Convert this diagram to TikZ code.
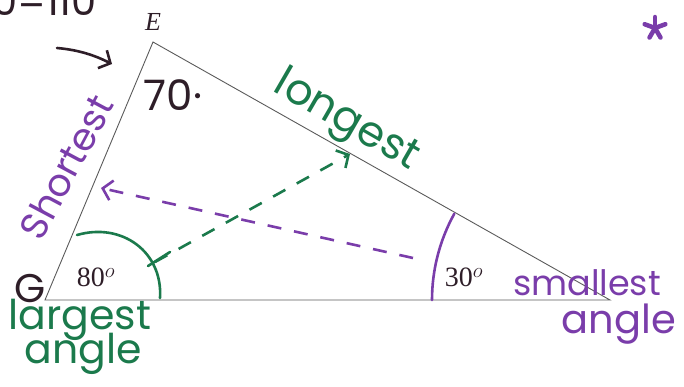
\documentclass[tikz,border=0pt]{standalone}
\usepackage{fontspec}
\setmainfont{Liberation Serif}
\newfontfamily\hand{Poppins}
\usetikzlibrary{arrows.meta,calc}
\definecolor{hpurple}{HTML}{7A3DAA}
\definecolor{hgreen}{HTML}{1B7A4C}
\definecolor{hdark}{HTML}{2E1E28}
\definecolor{edgegray}{HTML}{5A5A5A}
\begin{document}
\begin{tikzpicture}[x=1pt,y=-1pt,
  side/.style={draw=edgegray, line width=0.9pt},
  pen/.style={line width=2.6pt, line cap=round},
  dashpen/.style={line width=2.6pt, dash pattern=on 14pt off 13pt},
  hw/.style={font=\hand\fontsize{36}{36}\selectfont, inner sep=0pt},
  deg/.style={font=\fontsize{28}{28}\selectfont, inner sep=0pt, text=hdark},
  barb/.style={-{Straight Barb[length=9pt,width=20pt]}},
]
\useasboundingbox (0,0) rectangle (684,386);
% triangle
\coordinate (G) at (45,300);
\coordinate (E) at (153,42);
\coordinate (F) at (610,300);
\draw[side] (G) -- (E) -- (F) -- cycle;
% vertex labels
\node[font=\fontsize{26}{26}\selectfont\itshape, text=hdark, inner sep=0pt] (lE) at (153,22) {E};
\node[hw, text=hdark, font=\hand\fontsize{40}{40}\selectfont] (lG) at (30,289) {G};
\node[hw, text=hdark, font=\hand\fontsize{42}{42}\selectfont] (l70) at (173,95) {70·};
\node[deg] (l80) at (96,277) {80$^o$};
\node[deg] (l30) at (464,277) {30$^o$};
% top note
\node[hw, text=hdark, font=\hand\fontsize{40}{40}\selectfont, anchor=base east] (note) at (97,15) {0=110};
\coordinate (hA) at (57,48);
\coordinate (hB) at (112,64);
\draw[hdark, pen, barb] (hA) .. controls (80,50) and (96,56) .. (hB);
% side labels
\node[hw, text=hgreen, rotate=-30, font=\hand\fontsize{43}{43}\selectfont] (long) at (346,122) {longest};
\node[hw, text=hpurple, rotate=62, font=\hand\fontsize{38}{38}\selectfont] (short) at (66,167) {Shortest};
\node[hw, text=hgreen, font=\hand\fontsize{41}{41}\selectfont] (lg1) at (80,320) {largest};
\node[hw, text=hgreen, font=\hand\fontsize{41}{41}\selectfont] (lg2) at (83,354) {angle};
\node[hw, text=hpurple, font=\hand\fontsize{35}{35}\selectfont] (sm1) at (587,283) {smallest};
\node[hw, text=hpurple, font=\hand\fontsize{40}{40}\selectfont] (sm2) at (619,324) {angle};
% angle marks
\coordinate (gA) at (77,235);
\coordinate (gB) at (160,298);
\draw[hgreen, pen] (gA) .. controls (122,222) and (163,252) .. (gB);
\coordinate (pA) at ($(F)+(180:178)$);
\draw[hpurple, pen] (pA) arc[start angle=180, end angle=209, radius=178];
% dashed arrows
\coordinate (gS) at (155,262);
\coordinate (gT) at (350,154);
\draw[hgreen, pen] (148,266) -- (170,252);
\draw[hgreen, dashpen, barb] (gS) -- (gT);
\coordinate (pS) at (413,258);
\coordinate (pT) at (101,188);
\draw[hpurple, dashpen, barb] (pS) -- (pT);
% star
\coordinate (st) at (655,28);
\foreach \a in {90,160,20,240,300}
  \draw[hpurple, line width=4.5pt, line cap=round] (st) -- ++(\a:-11);
\end{tikzpicture}
\end{document}
